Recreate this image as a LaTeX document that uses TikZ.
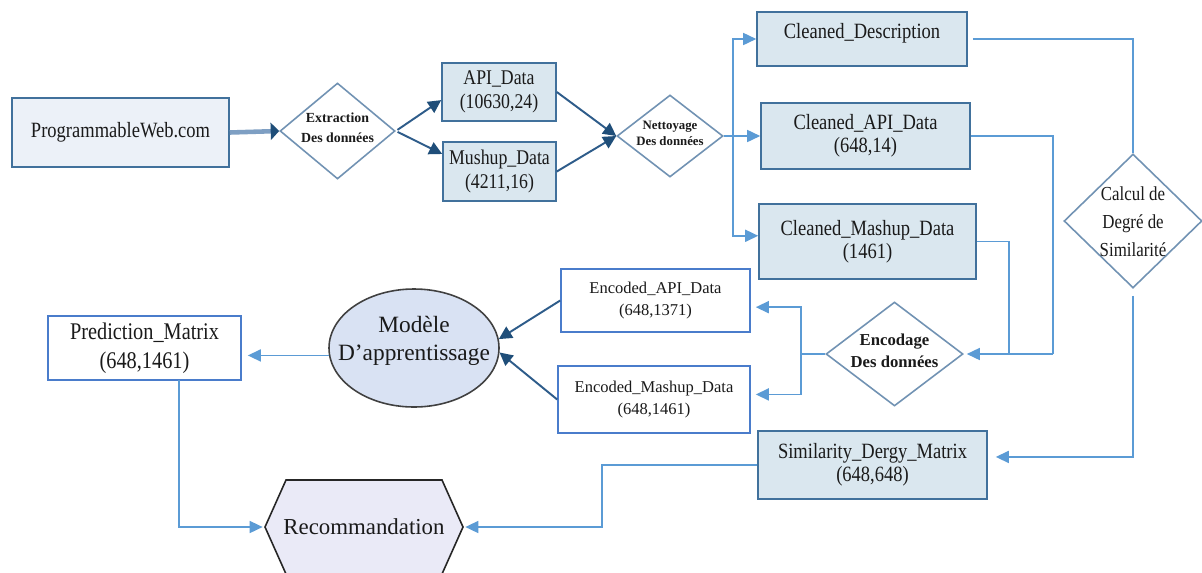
\documentclass[tikz,border=0pt]{standalone}
\usepackage{fontspec}
\setmainfont{Liberation Serif}
\newfontfamily\condfont{Liberation Serif}[FakeStretch=0.85]
\usetikzlibrary{shapes.geometric,arrows.meta}

\definecolor{boxedge}{HTML}{41719C}
\definecolor{boxfill}{HTML}{DAE7EF}
\definecolor{webfill}{HTML}{ECF1F8}
\definecolor{diamedge}{HTML}{7192B3}
\definecolor{encedge}{HTML}{4A7CCB}
\definecolor{flow}{HTML}{5B9BD5}
\definecolor{deepflow}{HTML}{2E5C8A}
\definecolor{deephead}{HTML}{1F4E79}
\definecolor{thickflow}{HTML}{7E9FC3}
\definecolor{modfill}{HTML}{D9E2F3}
\definecolor{hexfill}{HTML}{EAEAF7}
\definecolor{ink}{HTML}{1A1A1A}

\begin{document}
\begin{tikzpicture}[x=0.02cm,y=-0.02cm,
  wh/.style 2 args={minimum width=#1*0.02cm, minimum height=#2*0.02cm},
  every node/.style={text=ink, inner sep=0pt},
  databox/.style={draw=boxedge, fill=boxfill, line width=0.9pt, align=center,
    font=\condfont\fontsize{12.4}{13}\selectfont},
  encbox/.style={draw=encedge, fill=white, line width=0.9pt, align=center,
    font=\fontsize{9.4}{12.5}\selectfont},
  decision/.style={diamond, draw=diamedge, fill=white, line width=0.9pt},
  dlabel/.style={align=center},
  flowline/.style={draw=flow, line width=0.9pt},
  flowarr/.style={flowline, -{Triangle[length=0.26cm,width=0.24cm]}},
  deeparr/.style={draw=deepflow, line width=1.1pt,
    -{Triangle[length=0.26cm,width=0.26cm,color=deephead]}}
]
\useasboundingbox (0,0) rectangle (1202,572);
\fill[white] (0,0) rectangle (1202,572);

% ---- source and extraction ----
\node[databox, fill=webfill, wh={217}{69}] (pw) at (120.5,132.5) {ProgrammableWeb.com};
\node[decision, wh={115}{96}] (ext) at (337.5,131) {};
\node[dlabel, font=\bfseries\fontsize{7.9}{11.3}\selectfont] (ext-t) at (337.5,128) {Extraction\\Des données};

\node[databox, font=\condfont\fontsize{11.9}{13.4}\selectfont, wh={114}{58}] (api) at (499,92) {API\_Data\\(10630,24)};
\node[databox, font=\condfont\fontsize{11.9}{13.4}\selectfont, wh={113}{59}] (mush) at (499.5,171.5) {Mushup\_Data\\(4211,16)};

% ---- cleaning ----
\node[decision, wh={106}{82}] (net) at (670,136) {};
\node[dlabel, font=\bfseries\fontsize{7.3}{9}\selectfont] (net-t) at (670,133) {Nettoyage\\Des données};

\node[databox, wh={210}{54}] (cdesc) at (862,39) {};
\node[databox, draw=none, fill=none] (cdesc-t) at (862,33) {Cleaned\_Description};
\node[databox, wh={209}{66}] (capi) at (865.5,136) {Cleaned\_API\_Data\\(648,14)};
\node[databox, wh={217}{75}] (cmash) at (867.5,241.5) {Cleaned\_Mashup\_Data\\(1461)};

% ---- similarity ----
\node[decision, wh={138}{134}] (calc) at (1133,221) {};
\node[dlabel, font=\condfont\fontsize{11.3}{16}\selectfont] (calc-t) at (1133,221.5) {Calcul de\\Degré de\\Similarité};
\node[databox, wh={229}{68}] (sim) at (872.5,465) {Similarity\_Dergy\_Matrix\\(648,648)};

% ---- encoding ----
\node[decision, wh={137}{104}] (enc) at (894.5,354) {};
\node[dlabel, font=\bfseries\fontsize{9.5}{12.5}\selectfont] (enc-t) at (894.5,351) {Encodage\\Des données};
\node[encbox, wh={189}{63}] (encapi) at (655.5,300.5) {Encoded\_API\_Data\\(648,1371)};
\node[encbox, wh={192}{67}] (encmash) at (654,399.5) {Encoded\_Mashup\_Data\\(648,1461)};

% ---- learning and output ----
\node[ellipse, draw=black!75, fill=modfill, line width=0.9pt, wh={170}{118}] (mod) at (414,348) {};
\node[dlabel, font=\fontsize{13.3}{16}\selectfont] (mod-t) at (414,341) {Modèle\\D’apprentissage};
\node[encbox, font=\condfont\fontsize{13.6}{16.5}\selectfont, wh={193}{64}] (pred) at (144.5,348) {Prediction\_Matrix\\(648,1461)};

\filldraw[fill=hexfill, draw=black!85, line width=0.9pt]
  (265,527) -- (286,480) -- (442,480) -- (463,527) -- (442,574) -- (286,574) -- cycle;
\node[wh={198}{94}, font=\fontsize{13}{15}\selectfont] (reco) at (364,527) {Recommandation};

% ---- junction points ----
\coordinate (nb) at (733,136);
\coordinate (jr) at (1053,354);
\coordinate (jl) at (1009,354);
\coordinate (eb) at (801,354);
\coordinate (pv) at (179,380);
\coordinate (sx) at (602,500);

% ---- connectors ----
\draw[thickflow, line width=2.6pt, -{Triangle[length=0.17cm,width=0.34cm,color=deephead]}]
  (pw.east) -- (ext.west);
\draw[deeparr, shorten <=0.04cm] (ext.east) -- (api.188);
\draw[deeparr, shorten <=0.04cm] (ext.east) -- (mush.163);
\draw[deeparr] (api.east) -- (net.west);
\draw[deeparr] (mush.east) -- (net.west);

\draw[flowline] (net.east) -- (nb);
\draw[flowarr] (nb) |- (cdesc.west);
\draw[flowarr] (nb) -- (capi.west);
\draw[flowarr] (nb) |- (cmash.177);

\draw[flowline, shorten <=0.1cm] (cdesc.east) -| (calc.north);
\draw[flowline] (capi.east) -| (jr);
\draw[flowline] (cmash.east) -| (jl);
\draw[flowarr, shorten >=0.06cm] (jr) -- (enc.east);
\draw[flowarr, shorten <=0.14cm, shorten >=0.16cm] (calc.south) |- (sim.4);

\draw[flowline] (enc.west) -- (eb);
\draw[flowarr, shorten >=0.1cm] (eb) |- (encapi.-4);
\draw[flowarr, shorten >=0.1cm] (eb) |- (encmash.3);

\draw[deeparr] (encapi.west) -- (mod.6);
\draw[deeparr] (encmash.west) -- (mod.-3);
\draw[flowarr, shorten >=0.12cm] (mod.185) -- (mod.185 -| pred.east);

\draw[flowarr, shorten >=0.04cm] (pv) |- (reco.west);
\draw[flowarr, shorten >=0.04cm] (sim.west) -| (sx) |- (reco.east);
\end{tikzpicture}
\end{document}
